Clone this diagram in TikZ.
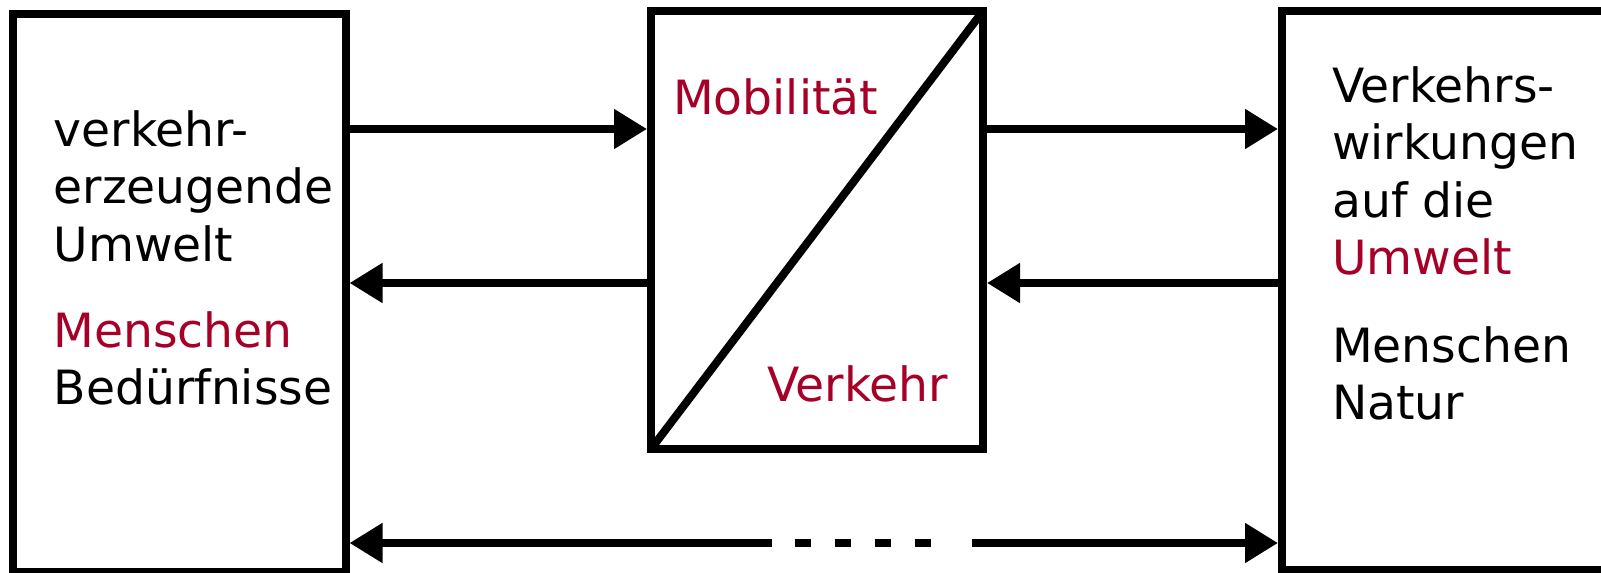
\documentclass[tikz,border=0pt]{standalone}
\usepackage{fontspec}
\setmainfont{DejaVu Sans}
\usetikzlibrary{arrows.meta}
\definecolor{dred}{RGB}{166,0,40}
\begin{document}
\begin{tikzpicture}[x=1bp,y=-1bp,
  box/.style={draw=black,line width=8bp,fill=white,inner sep=0bp},
  txt/.style={inner sep=0bp,anchor=base west,align=left,
    font=\fontsize{47.2bp}{57.3bp}\selectfont},
  flow/.style={line width=8bp,-{Triangle[length=33bp,width=38bp]}},
  dots/.style={line width=8bp,dash pattern=on 16bp off 24bp}]
\useasboundingbox (0,0) rectangle (1601,573);
\clip (0,0) rectangle (1601,573);

% the three blocks
\node[box,minimum width=332bp,minimum height=558bp] (L) at (179.5,293) {};
\node[box,minimum width=332bp,minimum height=438bp,
  path picture={\draw[line width=8bp]
    (path picture bounding box.south west) -- (path picture bounding box.north east);}]
  (M) at (817,230) {};
\node[box,minimum width=400bp,minimum height=558.7bp] (R) at (1482,290.2) {};

% labels (multi-line blocks are placed by the baseline of their last line)
\node[txt] (lt) at (53.5,404.6) {verkehr-\\erzeugende\\Umwelt\\[29bp]\textcolor{dred}{Menschen}\\Bedürfnisse};
\node[txt,text=dred] (mob) at (673,114.3) {Mobilität};
\node[txt,text=dred] (verk) at (767,401) {Verkehr};
\node[txt] (rt) at (1332,419.6) {Verkehrs-\\wirkungen\\auf die\\\textcolor{dred}{Umwelt}\\[30.5bp]Menschen\\Natur};

% connector rows
\coordinate (yTop) at (0,129);
\coordinate (yMid) at (0,283);
\coordinate (yBot) at (0,543);

\draw[flow] (L.east |- yTop) -- (M.west |- yTop);
\draw[flow] (M.west |- yMid) -- (L.east |- yMid);
\draw[flow] (M.east |- yTop) -- (R.west |- yTop);
\draw[flow] (R.west |- yMid) -- (M.east |- yMid);

% bottom feedback line, broken by dashes in the middle
\coordinate (gapL) at (772,543);
\coordinate (dashA) at (795,543);
\coordinate (dashB) at (931,543);
\coordinate (gapR) at (972,543);
\draw[flow] (gapL) -- (L.east |- yBot);
\draw[dots] (dashA) -- (dashB);
\draw[flow] (gapR) -- (R.west |- yBot);
\end{tikzpicture}
\end{document}
